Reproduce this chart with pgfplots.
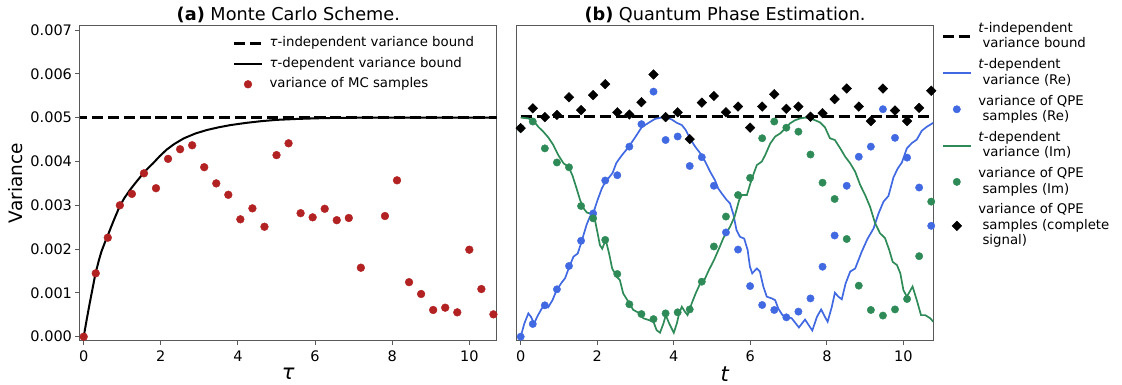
\documentclass[border=0pt]{standalone}
\usepackage{fontspec}
\setmainfont{DejaVu Sans}
\usepackage{pgfplots}
\pgfplotsset{compat=1.18}
\definecolor{mcred}{HTML}{B22222}
\definecolor{reblue}{HTML}{4169E1}
\definecolor{imgreen}{HTML}{2E8B57}
\newcommand{\tickfont}{\fontsize{14.5}{17}\selectfont}
\newcommand{\legfont}{\fontsize{13.3}{15.4}\selectfont}
\newcommand{\titlefont}{\fontsize{17.7}{21}\selectfont}
\newcommand{\xlabfont}{\fontsize{21}{25}\selectfont}
\newcommand{\ylabfont}{\fontsize{18.5}{22}\selectfont}
% struts for legend rows
\newcommand{\sA}{\rule[-6.75pt]{0pt}{20.5pt}}% left legend rows
\newcommand{\sN}{\rule[-4.2pt]{0pt}{15.4pt}}% right legend, line inside an entry
\newcommand{\sG}{\rule[-9.7pt]{0pt}{20.9pt}}% right legend, last line of an entry
\newcommand{\ind}{\hspace*{4.2pt}}
\pgfkeys{/pgf/number format/assume math mode=true}
\pgfplotsset{
  lineleg/.style={legend image code/.code={\path[draw=none,fill=none] (0pt,0pt) -- (28pt,0pt);\draw[##1,overlay] (0pt,-#1) -- (28pt,-#1);}},
  markleg/.style={legend image code/.code={\path[draw=none,fill=none] (0pt,0pt) -- (28pt,0pt);\draw[##1,overlay] plot coordinates {(14pt,-#1)};}},
  myaxis/.style={
    scale only axis, anchor=south west, width=416.7pt, height=315pt,
    axis line style={black!65, line width=1pt},
    tick style={black!65, line width=1pt},
    major tick length=4.5pt, tick align=outside,
    xtick pos=left, ytick pos=left,
    xtick={0,2,4,6,8,10},
    ticklabel style={font=\tickfont},
    xticklabel style={yshift=-2pt},
    title style={font=\titlefont, at={(axis description cs:0.5,1.0394)}, anchor=center, yshift=-7.5pt, inner sep=0pt},
    xlabel style={font=\xlabfont, at={(axis description cs:0.5,-0.106)}, anchor=center, inner sep=0pt},
    legend style={draw=none, fill=none, inner sep=0pt, outer sep=0pt, font=\legfont,
      row sep=0pt, column sep=7.5pt, nodes={inner sep=0pt, text depth={}}},
    legend cell align=left,
  },
  dashbound/.style={black, line width=3pt, dash pattern=on 11.1pt off 4.8pt},
}
\begin{document}
\begin{tikzpicture}[x=1pt,y=1pt]
\path[use as bounding box] (0,0) rectangle (1122,385);
% ---------------- (a) ----------------
\begin{axis}[myaxis, at={(80pt,44.3pt)},
  xmin=-0.096, xmax=10.71, ymin=-0.0000913, ymax=0.0071,
  ytick={0,0.001,0.002,0.003,0.004,0.005,0.006,0.007},
  scaled y ticks=false,
  yticklabel style={/pgf/number format/fixed, /pgf/number format/fixed zerofill, /pgf/number format/precision=3},
  title={\textbf{(a)} Monte Carlo Scheme.},
  xlabel={\textit{τ}},
  ylabel={Variance},
  ylabel style={font=\ylabfont, at={(axis description cs:-0.1536,0.5)}, anchor=center, inner sep=0pt},
  legend style={at={(axis description cs:0.3696,0.9767)}, anchor=north west},
]
\addplot[dashbound, lineleg=0pt] coordinates {(-0.2,0.005) (10.8,0.005)};
\addlegendentry{\sA\textit{τ}-independent variance bound}
\addplot[black, line width=2pt, lineleg=0pt] coordinates {
(0,0) (0.08,0.40e-3) (0.155,0.76e-3) (0.23,1.10e-3) (0.30,1.42e-3) (0.38,1.70e-3)
(0.458,1.94e-3) (0.54,2.13e-3) (0.614,2.29e-3) (0.70,2.48e-3) (0.80,2.70e-3)
(0.925,2.96e-3) (1.05,3.16e-3) (1.2,3.35e-3) (1.35,3.52e-3) (1.5,3.68e-3)
(1.65,3.83e-3) (1.8,3.96e-3) (1.97,4.12e-3) (2.15,4.27e-3) (2.35,4.40e-3)
(2.6,4.53e-3) (2.9,4.64e-3) (3.2,4.72e-3) (3.5,4.78e-3) (3.8,4.83e-3)
(4.2,4.88e-3) (4.6,4.92e-3) (5.0,4.95e-3) (5.5,4.97e-3) (6.0,4.985e-3)
(6.5,4.995e-3) (7.0,5.0e-3) (10.8,5.0e-3)};
\addlegendentry{\sA\textit{τ}-dependent variance bound}
\addplot[only marks, mark=*, mark size=3.9pt, color=mcred, mark options={draw=none, fill=mcred}, markleg=0pt] coordinates {
(0,0) (0.3125,1.447e-3) (0.625,2.26e-3) (0.9375,3.00e-3) (1.25,3.26e-3)
(1.5625,3.73e-3) (1.875,3.39e-3) (2.1875,4.06e-3) (2.5,4.28e-3) (2.8125,4.37e-3)
(3.125,3.87e-3) (3.4375,3.50e-3) (3.75,3.24e-3) (4.0625,2.68e-3) (4.375,2.93e-3)
(4.6875,2.51e-3) (5.0,4.145e-3) (5.3125,4.415e-3) (5.625,2.82e-3) (5.9375,2.725e-3)
(6.25,2.92e-3) (6.5625,2.66e-3) (6.875,2.71e-3) (7.1875,1.575e-3) (7.8125,2.755e-3)
(8.125,3.57e-3) (8.4375,1.245e-3) (8.75,0.975e-3) (9.0625,0.61e-3) (9.375,0.662e-3)
(9.6875,0.556e-3) (10.0,1.986e-3) (10.3125,1.088e-3) (10.625,0.51e-3)};
\addlegendentry{\sA variance of MC samples}
\end{axis}
% ---------------- (b) ----------------
\begin{axis}[myaxis, at={(516.7pt,44.3pt)},
  xmin=-0.1045, xmax=10.784, ymin=-0.0000909, ymax=0.0070682,
  ytick=\empty,
  title={\textbf{(b)} Quantum Phase Estimation.},
  xlabel={\textit{t}},
  legend style={at={(axis description cs:1.0226,1.0140)}, anchor=north west},
]
\addplot[dashbound, lineleg=7.7pt] coordinates {(0,0.005) (10.8,0.005)};
\addlegendentry{\sN\textit{t}-independent}
\addlegendimage{empty legend}
\addlegendentry{\sG\ind variance bound}
\addplot[reblue, line width=1.7pt, lineleg=7.7pt] coordinates {
(0,0) (0.095,0.30e-3) (0.2,0.53e-3) (0.27,0.45e-3) (0.35,0.30e-3) (0.44,0.47e-3)
(0.55,0.64e-3) (0.64,0.72e-3) (0.72,0.67e-3) (0.83,0.83e-3) (0.94,1.06e-3)
(1.07,1.23e-3) (1.16,1.33e-3) (1.27,1.59e-3) (1.38,1.82e-3) (1.49,1.89e-3)
(1.59,2.16e-3) (1.72,2.54e-3) (1.81,2.73e-3) (1.9,2.82e-3) (2.01,3.11e-3)
(2.12,3.37e-3) (2.2,3.50e-3) (2.31,3.62e-3) (2.40,3.72e-3) (2.50,3.95e-3)
(2.64,4.12e-3) (2.81,4.30e-3) (2.99,4.53e-3) (3.16,4.76e-3) (3.34,4.86e-3)
(3.51,4.95e-3) (3.68,4.98e-3) (3.81,4.98e-3) (3.94,4.94e-3) (4.08,4.86e-3)
(4.21,4.81e-3) (4.31,4.70e-3) (4.42,4.51e-3) (4.55,4.33e-3) (4.69,4.17e-3)
(4.82,3.98e-3) (4.95,3.75e-3) (5.08,3.55e-3) (5.16,3.37e-3) (5.25,3.26e-3)
(5.38,3.11e-3) (5.47,3.03e-3) (5.56,2.77e-3) (5.64,2.42e-3) (5.73,2.27e-3)
(5.84,2.23e-3) (5.93,1.97e-3) (5.99,1.59e-3) (6.05,1.44e-3) (6.17,1.55e-3)
(6.25,1.48e-3) (6.34,1.14e-3) (6.43,0.91e-3) (6.56,0.87e-3) (6.65,0.83e-3)
(6.73,0.64e-3) (6.84,0.49e-3) (6.95,0.45e-3) (7.08,0.42e-3) (7.17,0.32e-3)
(7.27,0.21e-3) (7.43,0.39e-3) (7.52,0.27e-3) (7.62,0.14e-3) (7.74,0.45e-3)
(7.85,0.62e-3) (7.95,0.45e-3) (8.02,0.34e-3) (8.13,0.68e-3) (8.21,1.00e-3)
(8.30,0.91e-3) (8.39,0.85e-3) (8.49,1.21e-3) (8.61,1.48e-3) (8.74,1.55e-3)
(8.91,1.93e-3) (9.06,2.22e-3)
(9.22,2.46e-3) (9.35,2.80e-3) (9.48,3.07e-3) (9.61,3.20e-3) (9.74,3.62e-3)
(9.85,3.82e-3) (9.96,3.96e-3) (10.09,4.28e-3) (10.22,4.40e-3) (10.35,4.48e-3)
(10.48,4.68e-3) (10.61,4.77e-3) (10.78,4.86e-3)};
\addlegendentry{\sN\textit{t}-dependent}
\addlegendimage{empty legend}
\addlegendentry{\sG\ind variance (Re)}
\addplot[only marks, mark=*, mark size=3.7pt, color=reblue, mark options={draw=none, fill=reblue}, markleg=7.7pt] coordinates {
(0,0) (0.3155,0.289e-3) (0.631,0.713e-3) (0.9465,1.077e-3) (1.262,1.607e-3)
(1.5775,2.18e-3) (1.893,2.80e-3) (2.2085,3.55e-3) (2.524,3.67e-3) (2.8395,4.32e-3)
(3.155,4.83e-3) (3.4705,5.57e-3) (3.786,4.47e-3) (4.1015,4.55e-3) (4.417,3.88e-3)
(4.7325,4.08e-3) (5.048,3.43e-3) (5.3635,2.37e-3) (5.679,1.98e-3) (5.9945,1.15e-3)
(6.31,0.72e-3) (6.6255,0.607e-3) (6.941,0.44e-3) (7.2565,0.57e-3) (7.572,0.87e-3)
(7.8875,1.59e-3) (8.203,2.30e-3) (8.5185,3.43e-3) (8.834,4.09e-3) (9.1495,4.32e-3)
(9.465,5.17e-3) (9.7805,4.52e-3) (10.096,4.07e-3) (10.4115,3.39e-3) (10.727,2.52e-3)};
\addlegendentry{\sN variance of QPE}
\addlegendimage{empty legend}
\addlegendentry{\sG\ind samples (Re)}
\addplot[imgreen, line width=1.7pt, forget plot] coordinates {
(0,4.98e-3) (0.2,4.96e-3) (0.33,4.91e-3) (0.46,4.77e-3) (0.59,4.66e-3) (0.72,4.53e-3)
(0.85,4.36e-3) (0.98,4.13e-3) (1.12,3.94e-3) (1.25,3.86e-3) (1.35,3.67e-3)
(1.46,3.37e-3) (1.55,3.11e-3) (1.64,2.92e-3) (1.73,2.82e-3) (1.86,2.79e-3)
(1.94,2.65e-3) (2.01,2.35e-3) (2.07,2.08e-3) (2.13,2.00e-3) (2.22,2.20e-3)
(2.31,1.89e-3) (2.39,1.55e-3) (2.51,1.36e-3) (2.59,1.29e-3) (2.68,0.98e-3)
(2.81,0.80e-3) (2.94,0.61e-3) (3.07,0.55e-3) (3.20,0.42e-3) (3.34,0.38e-3)
(3.47,0.34e-3) (3.55,0.15e-3) (3.64,0.09e-3) (3.73,0.30e-3) (3.79,0.49e-3)
(3.88,0.30e-3) (4.00,0.09e-3) (4.08,0.30e-3) (4.14,0.53e-3) (4.21,0.68e-3)
(4.29,0.57e-3) (4.36,0.49e-3) (4.47,0.76e-3) (4.57,0.98e-3) (4.69,1.21e-3)
(4.80,1.29e-3) (4.92,1.52e-3) (5.05,1.74e-3) (5.18,2.00e-3) (5.30,2.25e-3)
(5.47,2.50e-3) (5.59,2.73e-3) (5.71,3.11e-3) (5.78,3.22e-3) (5.91,3.22e-3)
(6.00,3.48e-3) (6.09,3.71e-3) (6.17,3.90e-3) (6.30,3.98e-3) (6.39,4.13e-3)
(6.52,4.39e-3) (6.65,4.55e-3) (6.78,4.62e-3) (6.91,4.73e-3) (7.04,4.85e-3)
(7.17,4.92e-3) (7.30,4.96e-3) (7.43,4.98e-3) (7.56,4.96e-3) (7.69,4.92e-3)
(7.82,4.87e-3) (7.95,4.76e-3) (8.08,4.51e-3) (8.21,4.47e-3) (8.35,4.28e-3)
(8.48,4.09e-3) (8.61,3.94e-3) (8.74,3.75e-3) (8.87,3.45e-3) (9.00,3.22e-3)
(9.13,2.95e-3) (9.26,2.58e-3) (9.39,2.35e-3) (9.52,2.24e-3) (9.63,1.97e-3)
(9.72,1.70e-3) (9.83,1.63e-3) (9.92,1.44e-3) (10.00,1.06e-3) (10.09,0.91e-3)
(10.24,1.14e-3) (10.35,0.83e-3) (10.46,0.49e-3) (10.57,0.49e-3) (10.70,0.42e-3)
(10.78,0.34e-3)};
\addlegendimage{draw=imgreen, line width=1.9pt, lineleg=8.2pt}
\addlegendentry{\sN\textit{t}-dependent}
\addlegendimage{empty legend}
\addlegendentry{\sG\ind variance (Im)}
\addplot[only marks, mark=*, mark size=3.7pt, color=imgreen, mark options={draw=none, fill=imgreen}, markleg=7.7pt] coordinates {
(0,4.74e-3) (0.3155,4.89e-3) (0.631,4.28e-3) (0.9465,3.96e-3) (1.262,3.85e-3)
(1.5775,2.97e-3) (1.893,2.69e-3) (2.2085,2.20e-3) (2.524,1.425e-3) (2.8395,0.736e-3)
(3.155,0.515e-3) (3.4705,0.40e-3) (3.786,0.53e-3) (4.1015,0.554e-3) (4.417,0.62e-3)
(4.7325,1.25e-3) (5.048,2.05e-3) (5.3635,2.73e-3) (5.679,3.22e-3) (5.9945,3.61e-3)
(6.31,4.51e-3) (6.6255,4.89e-3) (6.941,4.75e-3) (7.2565,4.66e-3) (7.572,4.14e-3)
(7.8875,3.50e-3) (8.203,3.13e-3) (8.5185,2.22e-3) (8.834,1.16e-3) (9.1495,0.607e-3)
(9.465,0.48e-3) (9.7805,0.62e-3) (10.096,0.857e-3) (10.4115,1.83e-3) (10.727,3.07e-3)};
\addlegendentry{\sN variance of QPE}
\addlegendimage{empty legend}
\addlegendentry{\sG\ind samples (Im)}
\addplot[only marks, mark=square*, mark size=3.4pt, color=black, mark options={rotate=45, draw=none, fill=black}, markleg=15.4pt] coordinates {
(0,4.74e-3) (0.3155,5.19e-3) (0.631,4.99e-3) (0.9465,5.04e-3) (1.262,5.44e-3)
(1.5775,5.15e-3) (1.893,5.49e-3) (2.2085,5.74e-3) (2.524,5.10e-3) (2.8395,5.05e-3)
(3.155,5.33e-3) (3.4705,5.96e-3) (3.786,4.99e-3) (4.1015,5.10e-3) (4.417,4.49e-3)
(4.7325,5.32e-3) (5.048,5.47e-3) (5.3635,5.10e-3) (5.679,5.23e-3) (5.9945,4.75e-3)
(6.31,5.23e-3) (6.6255,5.51e-3) (6.941,5.18e-3) (7.2565,5.23e-3) (7.572,5.00e-3)
(7.8875,5.08e-3) (8.203,5.40e-3) (8.5185,5.64e-3) (8.834,5.23e-3) (9.1495,4.90e-3)
(9.465,5.64e-3) (9.7805,5.14e-3) (10.096,4.90e-3) (10.4115,5.20e-3) (10.727,5.59e-3)};
\addlegendentry{\sN variance of QPE}
\addlegendimage{empty legend}
\addlegendentry{\sN\ind samples (complete}
\addlegendimage{empty legend}
\addlegendentry{\sN\ind signal)}
\end{axis}
\end{tikzpicture}
\end{document}
